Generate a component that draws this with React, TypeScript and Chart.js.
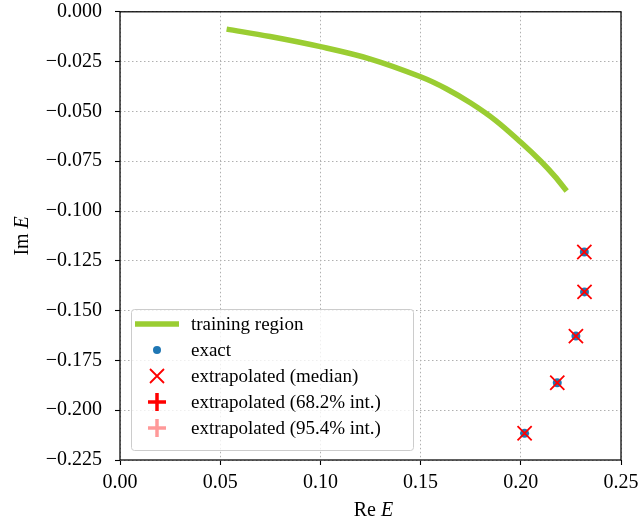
import { useEffect, useRef } from "react";
import { Chart, registerables } from "chart.js";

Chart.register(...registerables);

// ---- data ----
const trainingRe = [0.0532, 0.0749, 0.1, 0.125, 0.15, 0.1628, 0.175, 0.1875, 0.2, 0.21, 0.217, 0.2229];
const trainingIm = [-0.0087, -0.0124, -0.0175, -0.0237, -0.0326, -0.0386, -0.0458, -0.0546, -0.0655, -0.075, -0.0826, -0.09];
const exactRe = [0.2317, 0.2318, 0.2275, 0.2182, 0.2019];
const exactIm = [-0.1206, -0.1406, -0.1628, -0.1862, -0.2116];
const medianRe = [0.2317, 0.2318, 0.2275, 0.2182, 0.2019];
const medianIm = [-0.1206, -0.1406, -0.1628, -0.1862, -0.2116];
const legendLabels = [
  "training region",
  "exact",
  "extrapolated (median)",
  "extrapolated (68.2% int.)",
  "extrapolated (95.4% int.)",
];
const xTitle = ["Re", "E"];
const yTitle = ["Im", "E"];
const xRange = [0, 0.25, 0.05];
const yRange = [-0.225, 0, 0.025];

const FONT = "Liberation Serif";
const GREEN = "#9acd32";
const BLUE = "#1f77b4";
const RED = "#ff0000";

function drawMathLabel(ctx: CanvasRenderingContext2D, parts: string[], size: number) {
  const normal = `${size}px "${FONT}"`;
  const italic = `italic ${size}px "${FONT}"`;
  ctx.font = normal;
  const w1 = ctx.measureText(parts[0] + " ").width;
  ctx.font = italic;
  const w2 = ctx.measureText(parts[1]).width;
  const total = w1 + w2;
  ctx.textAlign = "left";
  ctx.textBaseline = "alphabetic";
  ctx.font = normal;
  ctx.fillText(parts[0], -total / 2, 0);
  ctx.font = italic;
  ctx.fillText(parts[1], -total / 2 + w1, 0);
}

const overlayPlugin = {
  id: "overlay",
  afterDraw(chart: any) {
    const ctx: CanvasRenderingContext2D = chart.ctx;
    const a = chart.chartArea;
    ctx.save();
    // frame
    ctx.strokeStyle = "#000";
    ctx.lineWidth = 1.25;
    ctx.strokeRect(a.left, a.top, a.right - a.left, a.bottom - a.top);

    // axis titles
    ctx.fillStyle = "#000";
    ctx.save();
    ctx.translate((a.left + a.right) / 2 + 3, 516);
    drawMathLabel(ctx, xTitle, 20);
    ctx.restore();
    ctx.save();
    ctx.translate(28, (a.top + a.bottom) / 2);
    ctx.rotate(-Math.PI / 2);
    drawMathLabel(ctx, yTitle, 20);
    ctx.restore();

    // legend
    const lx = a.left + 11;
    const ly = a.bottom - 151;
    const lw = 282;
    const lh = 141;
    ctx.beginPath();
    (ctx as any).roundRect(lx + 0.5, ly + 0.5, lw, lh, 3);
    ctx.fillStyle = "rgba(255,255,255,0.8)";
    ctx.fill();
    ctx.strokeStyle = "#cccccc";
    ctx.lineWidth = 1;
    ctx.stroke();

    const hx = lx + 26;
    const tx = lx + 60;
    legendLabels.forEach((label, i) => {
      const y = ly + 15 + i * 26;
      if (i === 0) {
        ctx.strokeStyle = GREEN;
        ctx.lineWidth = 5.5;
        ctx.lineCap = "butt";
        ctx.beginPath();
        ctx.moveTo(hx - 22, y);
        ctx.lineTo(hx + 22, y);
        ctx.stroke();
      } else if (i === 1) {
        ctx.fillStyle = BLUE;
        ctx.beginPath();
        ctx.arc(hx, y, 4, 0, Math.PI * 2);
        ctx.fill();
      } else if (i === 2) {
        ctx.strokeStyle = RED;
        ctx.lineWidth = 1.8;
        ctx.beginPath();
        ctx.moveTo(hx - 7, y - 7);
        ctx.lineTo(hx + 7, y + 7);
        ctx.moveTo(hx - 7, y + 7);
        ctx.lineTo(hx + 7, y - 7);
        ctx.stroke();
      } else {
        ctx.strokeStyle = i === 3 ? RED : "rgba(255,0,0,0.4)";
        ctx.lineWidth = 3.5;
        ctx.beginPath();
        ctx.moveTo(hx - 9, y);
        ctx.lineTo(hx + 9, y);
        ctx.moveTo(hx, y - 9);
        ctx.lineTo(hx, y + 9);
        ctx.stroke();
      }
      ctx.fillStyle = "#000";
      ctx.font = `19px "${FONT}"`;
      ctx.textAlign = "left";
      ctx.textBaseline = "middle";
      ctx.fillText(label, tx, y + 1);
    });
    ctx.restore();
  },
};

export default function App() {
  const ref = useRef<HTMLCanvasElement | null>(null);
  useEffect(() => {
    document.body.style.margin = "0";
    const canvas = ref.current!;
    const gridCommon = {
      color: "#b0b0b0",
      lineWidth: 1,
      tickColor: "#000",
      tickLength: 5,
      tickWidth: 1.1,
    };
    const chart = new Chart(canvas, {
      type: "scatter",
      data: {
        datasets: [
          {
            label: legendLabels[0],
            data: trainingRe.map((x, i) => ({ x, y: trainingIm[i] })),
            showLine: true,
            borderColor: GREEN,
            backgroundColor: GREEN,
            borderWidth: 5.5,
            pointRadius: 0,
            tension: 0.35,
            order: 3,
          } as any,
          {
            label: legendLabels[1],
            data: exactRe.map((x, i) => ({ x, y: exactIm[i] })),
            pointStyle: "circle",
            pointRadius: 4.5,
            backgroundColor: BLUE,
            borderWidth: 0,
            order: 2,
          },
          {
            label: legendLabels[2],
            data: medianRe.map((x, i) => ({ x, y: medianIm[i] })),
            pointStyle: "crossRot",
            pointRadius: 10,
            borderColor: RED,
            backgroundColor: RED,
            borderWidth: 1.8,
            order: 1,
          },
        ],
      },
      options: {
        animation: false,
        responsive: false,
        devicePixelRatio: 1,
        layout: { padding: { top: 11, right: 18, left: 0, bottom: 0 } },
        plugins: { legend: { display: false }, tooltip: { enabled: false } },
        scales: {
          x: {
            type: "linear",
            min: xRange[0],
            max: xRange[1],
            afterFit: (s: any) => {
              s.height = 63;
              s.paddingLeft = 0;
              s.paddingRight = 0;
            },
            ticks: {
              stepSize: xRange[2],
              color: "#000",
              font: { family: FONT, size: 20 },
              padding: 6,
              maxRotation: 0,
              callback: (v: any) => Number(v).toFixed(2),
            },
            grid: gridCommon,
            border: { display: false, dash: [1.5, 2.5] },
          },
          y: {
            type: "linear",
            min: yRange[0],
            max: yRange[1],
            afterFit: (s: any) => {
              s.width = 120;
              s.paddingTop = 0;
              s.paddingBottom = 0;
            },
            ticks: {
              stepSize: yRange[2],
              color: "#000",
              font: { family: FONT, size: 20 },
              padding: 13,
              callback: (v: any) => {
                const n = Number(v);
                const s = Math.abs(n).toFixed(3);
                return n < -1e-9 ? "\u2212" + s : s;
              },
            },
            grid: gridCommon,
            border: { display: false, dash: [1.5, 2.5] },
          },
        },
      } as any,
      plugins: [overlayPlugin],
    });
    return () => chart.destroy();
  }, []);
  return <canvas ref={ref} width={639} height={523} style={{ display: "block" }} />;
}
